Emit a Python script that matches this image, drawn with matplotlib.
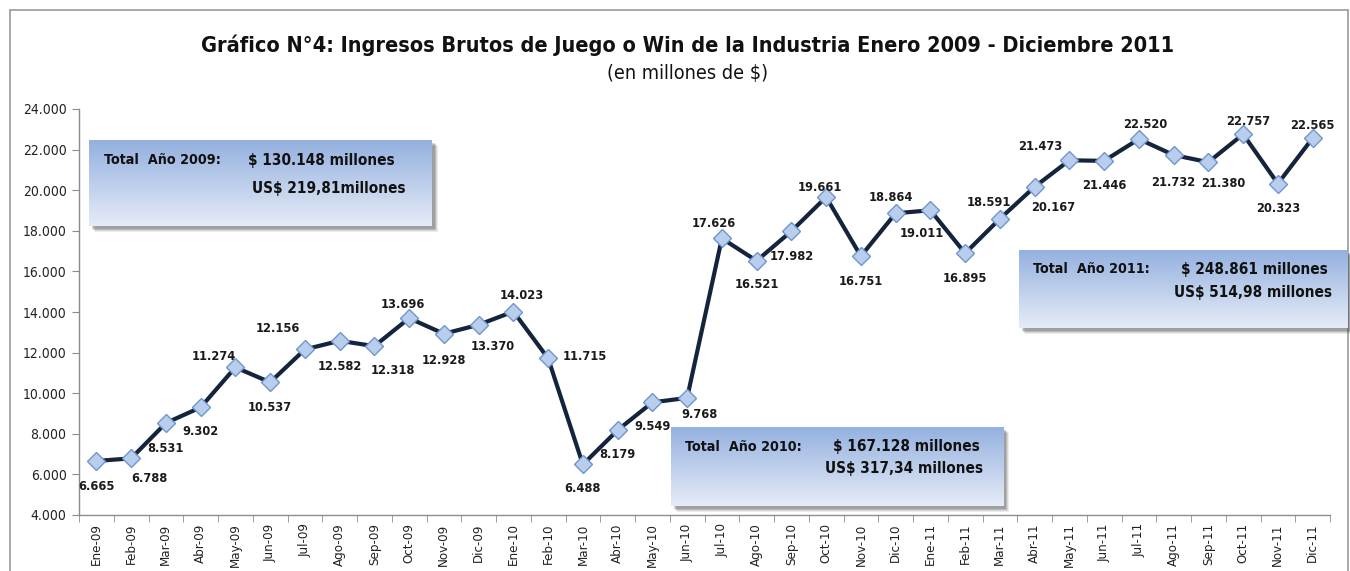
import matplotlib
matplotlib.use("Agg")
import matplotlib.pyplot as plt
import numpy as np
from matplotlib.patches import Rectangle
from matplotlib.ticker import FuncFormatter, MultipleLocator

plt.rcParams['font.family'] = ['DejaVu Sans']
plt.rcParams['font.stretch'] = 'condensed'

months = ["Ene-09", "Feb-09", "Mar-09", "Abr-09", "May-09", "Jun-09", "Jul-09", "Ago-09", "Sep-09", "Oct-09", "Nov-09", "Dic-09",
          "Ene-10", "Feb-10", "Mar-10", "Abr-10", "May-10", "Jun-10", "Jul-10", "Ago-10", "Sep-10", "Oct-10", "Nov-10", "Dic-10",
          "Ene-11", "Feb-11", "Mar-11", "Abr-11", "May-11", "Jun-11", "Jul-11", "Ago-11", "Sep-11", "Oct-11", "Nov-11", "Dic-11"]
win_2009 = [6665, 6788, 8531, 9302, 11274, 10537, 12156, 12582, 12318, 13696, 12928, 13370]
win_2010 = [14023, 11715, 6488, 8179, 9549, 9768, 17626, 16521, 17982, 19661, 16751, 18864]
win_2011 = [19011, 16895, 18591, 20167, 21473, 21446, 22520, 21732, 21380, 22757, 20323, 22565]
values = win_2009 + win_2010 + win_2011

title = "Gráfico N°4: Ingresos Brutos de Juego o Win de la Industria Enero 2009 - Diciembre 2011"
subtitle = "(en millones de $)"
box_totals = [("Total  Año 2009:", "$ 130.148 millones", "US$ 219,81millones"),
              ("Total  Año 2010:", "$ 167.128 millones", "US$ 317,34 millones"),
              ("Total  Año 2011:", "$ 248.861 millones", "US$ 514,98 millones")]

# label offsets in pixels (dx, dy; dy positive = downward) -- styling only
label_offsets = [(0, 26), (18, 20), (0, 25), (0, 24), (-22, -11), (0, 25), (-27, -21), (0, 26), (19, 24), (-6, -14), (0, 27), (14, 22),
                 (8, -16), (37, -2), (0, 24), (0, 24), (0, 24), (12, 17), (-8, -15), (0, 24), (0, 25), (-6, -10), (0, 25), (-5, -16),
                 (-9, 23), (0, 25), (-11, -16), (19, 21), (-29, -14), (0, 25), (6, -15), (0, 27), (15, 21), (5, -13), (0, 25), (0, -13)]

W, H = 1350, 571
fig = plt.figure(figsize=(W / 100, H / 100), dpi=100)
fig.patch.set_facecolor('white')

# outer border
fig.patches.append(Rectangle((10 / W, -0.02), (1348 - 10) / W, 1 - 10 / H + 0.02, transform=fig.transFigure,
                             fill=False, edgecolor='#9a9a9a', linewidth=1.2, zorder=0))

ax = fig.add_axes([79 / W, 1 - 515 / H, (1330 - 79) / W, (515 - 109) / H])
ax.set_zorder(1)
ax.patch.set_alpha(0)

x = np.arange(len(values))
ax.plot(x, values, color='#15243d', linewidth=3.0, zorder=3, solid_joinstyle='miter')
ax.plot(x, values, linestyle='none', marker='D', markersize=9, markerfacecolor='#b9cdec',
        markeredgecolor='#6f95cf', markeredgewidth=1.0, zorder=4)

for xi, v, (dx, dy) in zip(x, values, label_offsets):
    lab = f"{v:,}".replace(",", ".")
    ax.annotate(lab, (xi, v), xytext=(dx * 0.72, -dy * 0.72), textcoords='offset points',
                ha='center', va='center', fontsize=9.2, fontweight='bold', color='#1a1a1a', zorder=5)

ax.set_xlim(-0.5, len(values) - 0.5)
ax.set_ylim(4000, 24000)
ax.yaxis.set_major_locator(MultipleLocator(2000))
ax.yaxis.set_major_formatter(FuncFormatter(lambda v, p: f"{int(v):,}".replace(",", ".")))
ax.set_xticks(x)
ax.set_xticklabels(months, rotation=90, fontsize=9.5)
ax.set_xticks(np.arange(-0.5, len(values), 1), minor=True)
ax.tick_params(axis='x', which='major', length=0, pad=6, colors='#222222')
ax.tick_params(axis='x', which='minor', length=5, color='#8c8c8c', direction='out')
ax.tick_params(axis='y', which='major', length=5, color='#8c8c8c', direction='out', labelsize=10, labelcolor='#222222', pad=4)
for s in ['top', 'right']:
    ax.spines[s].set_visible(False)
for s in ['left', 'bottom']:
    ax.spines[s].set_color('#8c8c8c')
    ax.spines[s].set_linewidth(1.0)

fig.text(688 / W, 1 - 45 / H, title, ha='center', va='center', fontsize=15.6, fontweight='bold', color='#111111')
fig.text(688 / W, 1 - 73 / H, subtitle, ha='center', va='center', fontsize=14.2, color='#111111')

# gradient boxes: (x0, y0, x1, y1) in pixels, text positions
boxes = [((89, 140, 432, 226), (104, 160), (248, 160, 'left'), (252, 188, 'left')),
         ((671, 427, 1003, 506), (685, 447), (980, 447, 'right'), (983, 469, 'right')),
         ((1019, 250, 1348, 328), (1033, 269), (1328, 269, 'right'), (1332, 293, 'right'))]

grad = np.linspace(0, 1, 256).reshape(-1, 1)
top = np.array([0x93, 0xB0, 0xDF]) / 255
bot = np.array([0xE6, 0xEC, 0xF7]) / 255
img = top[None, None, :] * (1 - grad[:, :, None]) + bot[None, None, :] * grad[:, :, None]

for ((x0, y0, x1, y1), t1, t2, t3), (lbl, pesos, usd) in zip(boxes, box_totals):
    for i, a in enumerate([0.10, 0.14, 0.18, 0.24]):
        off = 6 - i
        fig.patches.append(Rectangle(((x0 + off) / W, 1 - (y1 + off) / H), (x1 - x0) / W, (y1 - y0) / H,
                                     transform=fig.transFigure, facecolor='#4a4a4a', edgecolor='none',
                                     alpha=a, zorder=2))
    bax = fig.add_axes([x0 / W, 1 - y1 / H, (x1 - x0) / W, (y1 - y0) / H])
    bax.set_zorder(3)
    bax.imshow(img, aspect='auto', extent=(0, 1, 0, 1), interpolation='bilinear')
    bax.set_xlim(0, 1)
    bax.set_ylim(0, 1)
    bax.axis('off')
    fig.text(t1[0] / W, 1 - t1[1] / H, lbl, ha='left', va='center', fontsize=10.3, fontweight='bold', color='#111111', zorder=6)
    fig.text(t2[0] / W, 1 - t2[1] / H, pesos, ha=t2[2], va='center', fontsize=11, fontweight='bold', color='#111111', zorder=6)
    fig.text(t3[0] / W, 1 - t3[1] / H, usd, ha=t3[2], va='center', fontsize=11, fontweight='bold', color='#111111', zorder=6)

fig.savefig("out.png", dpi=100)
